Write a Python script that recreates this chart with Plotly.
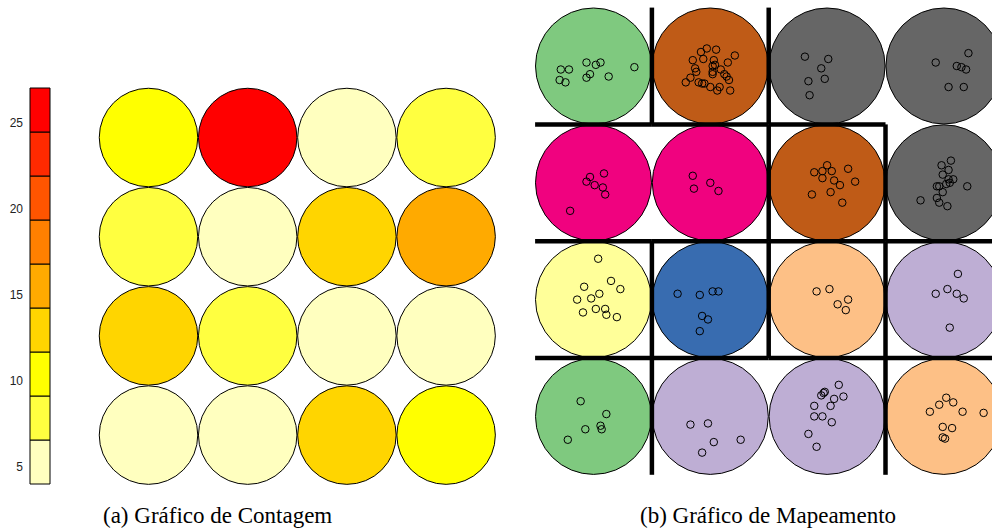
import plotly.graph_objects as go

# contagem de observações por neurônio (grade 4x4, linha 1 = topo)
counts = [[11, 27, 6, 7],
          [7, 4, 12, 16],
          [12, 7, 5, 6],
          [6, 5, 13, 10]]
count_min, count_max = 4, 27
heat_colors = ["#FFFFBF", "#FFFF40", "#FFFF00", "#FFD500", "#FFAA00",
               "#FF8000", "#FF5500", "#FF2A00", "#FF0000"]
colorbar_ticks = [5, 10, 15, 20, 25]

# agrupamento dos neurônios
clusters = [["verde", "marrom", "cinza", "cinza"],
            ["rosa", "rosa", "marrom", "cinza"],
            ["amarelo", "azul", "pessego", "lilas"],
            ["verde", "lilas", "lilas", "pessego"]]
cluster_colors = {"verde": "#7FC97F", "lilas": "#BEAED4", "pessego": "#FDC086",
                  "amarelo": "#FFFF99", "azul": "#386CB0", "rosa": "#F0027F",
                  "marrom": "#BF5B17", "cinza": "#666666"}

# observações mapeadas (coordenadas na grade: coluna, linha)
obs_x = [0.72, 0.79, 0.71, 0.76, 0.94, 1.02, 1.06, 0.97, 0.94, 1.13, 1.35,
         1.97, 2.05, 1.92, 1.85, 1.94, 2.03, 2.21, 2.15, 2.04, 2.02, 1.87, 1.88, 2.09, 2.02,
         2.02, 2.12, 2.14, 2.16, 1.83, 1.79, 1.90, 1.93, 1.95, 2.00, 2.08, 2.06, 2.17,
         2.81, 3.01, 2.95, 2.84, 2.98, 2.85,
         4.21, 3.93, 4.11, 4.15, 4.19, 4.04, 4.17,
         0.97, 1.09, 0.94, 1.01, 1.08, 1.10, 0.80,
         1.85, 2.00, 1.86, 2.07,
         3.00, 2.89, 2.96, 3.04, 3.18, 2.96, 3.06, 3.11, 3.24, 2.87, 3.03, 3.13,
         4.06, 3.98, 4.04, 3.99, 4.04, 4.08, 4.02, 4.05, 3.96, 3.94, 4.20, 3.99, 3.94, 3.80,
         3.96, 4.03,
         1.04, 0.92, 1.15, 1.23, 1.05, 0.86, 0.98, 1.02, 1.10, 1.11, 0.91, 1.20,
         1.72, 1.91, 2.02, 2.07, 1.93, 1.98, 1.91,
         2.91, 3.02, 3.18, 3.09, 3.16,
         4.12, 4.03, 3.93, 4.11, 4.17, 4.05,
         0.89, 1.11, 1.06, 0.93, 1.07, 0.78,
         1.83, 1.98, 2.03, 2.26, 1.93,
         3.10, 2.98, 2.95, 3.14, 3.06, 2.89, 3.03, 2.89, 2.96, 3.04, 2.84, 2.91, 2.97,
         4.02, 3.96, 4.08, 3.88, 4.16, 4.34, 3.99, 4.07, 3.99, 4.01]
obs_y = [1.03, 1.03, 1.12, 1.14, 0.97, 0.99, 0.97, 1.07, 1.10, 1.09, 1.01,
         0.85, 0.86, 0.88, 0.95, 0.94, 0.95, 0.91, 0.97, 0.99, 1.00, 1.02, 1.05, 1.03, 1.05,
         1.07, 1.07, 1.09, 1.12, 1.10, 1.14, 1.14, 1.15, 1.15, 1.18, 1.18, 1.21, 1.21,
         0.92, 0.94, 1.02, 1.13, 1.11, 1.25,
         0.89, 0.97, 1.00, 1.01, 1.03, 1.18, 1.18,
         1.95, 1.92, 1.99, 2.02, 2.04, 2.10, 2.24,
         1.94, 2.00, 2.05, 2.07,
         1.85, 1.91, 1.90, 1.90, 1.88, 1.96, 1.98, 2.02, 1.99, 2.10, 2.08, 2.17,
         1.81, 1.85, 1.89, 1.93, 1.97, 1.97, 2.01, 2.00, 2.03, 2.03, 2.03, 2.08, 2.13, 2.15,
         2.17, 2.20,
         2.65, 2.89, 2.84, 2.91, 2.95, 3.00, 2.99, 3.08, 3.08, 3.13, 3.11, 3.15,
         2.95, 2.96, 2.93, 2.93, 3.14, 3.17, 3.27,
         2.93, 2.91, 3.00, 3.04, 3.09,
         2.78, 2.91, 2.95, 2.95, 2.99, 3.24,
         3.87, 3.98, 4.08, 4.11, 4.11, 4.20,
         4.07, 4.06, 4.22, 4.20, 4.31,
         3.73, 3.79, 3.82, 3.83, 3.85, 3.91, 3.91, 4.00, 4.00, 4.05, 4.15, 4.26, 3.80,
         3.84, 3.90, 3.88, 3.96, 3.96, 3.97, 4.09, 4.10, 4.18, 4.19]

W, H = 992, 530
n = len(counts)
cell_col = [c + 1 for r in range(n) for c in range(n)]
cell_row = [r + 1 for r in range(n) for c in range(n)]


def dom_x(a, b):
    return [a / W, b / W]


def dom_y(top, bottom):
    return [1 - bottom / H, 1 - top / H]


def grid_range(p0, p1, center1, unit):
    return [1 + (p0 - center1) / unit, 1 + (p1 - center1) / unit]


fig = go.Figure()

# --- escala de cores (legenda em blocos) ---
nb = len(heat_colors)
bw = (count_max - count_min) / nb
fig.add_trace(go.Bar(
    x=[0.5] * nb, y=[bw] * nb, base=[count_min + i * bw for i in range(nb)],
    width=1, marker=dict(color=heat_colors, line=dict(color="black", width=1)),
    xaxis="x3", yaxis="y3", hoverinfo="skip", showlegend=False))

# --- (a) gráfico de contagem ---
steps = []
for i, c in enumerate(heat_colors):
    steps += [[i / nb, c], [(i + 1) / nb, c]]
fig.add_trace(go.Scatter(
    x=cell_col, y=cell_row, mode="markers", cliponaxis=False,
    marker=dict(size=98.5, color=[v for row in counts for v in row],
                colorscale=steps, cmin=count_min, cmax=count_max,
                line=dict(color="black", width=1)),
    xaxis="x", yaxis="y", showlegend=False))

# --- (b) gráfico de mapeamento ---
fig.add_trace(go.Scatter(
    x=cell_col, y=cell_row, mode="markers", cliponaxis=False,
    marker=dict(size=116, color=[cluster_colors[k] for row in clusters for k in row],
                line=dict(color="black", width=1)),
    xaxis="x2", yaxis="y2", showlegend=False))

seg_x, seg_y = [], []
for r in range(n):
    for c in range(n):
        if c < n - 1 and clusters[r][c] != clusters[r][c + 1]:
            seg_x += [c + 1.5, c + 1.5, None]
            seg_y += [r + 0.5, r + 1.5, None]
        if r < n - 1 and clusters[r][c] != clusters[r + 1][c]:
            seg_x += [c + 0.5, c + 1.5, None]
            seg_y += [r + 1.5, r + 1.5, None]
fig.add_trace(go.Scatter(
    x=seg_x, y=seg_y, mode="lines", line=dict(color="black", width=4.5),
    xaxis="x2", yaxis="y2", showlegend=False))

fig.add_trace(go.Scatter(
    x=obs_x, y=obs_y, mode="markers",
    marker=dict(symbol="circle-open", size=7.5, color="black", line=dict(width=1)),
    xaxis="x2", yaxis="y2", showlegend=False))

hidden = dict(visible=False, fixedrange=True)
u_a, u_b = 99.2, 116.8
px_per = 396 / (count_max - count_min)
cap_font = dict(size=23, family="Liberation Serif, DejaVu Serif, serif", color="black")
fig.update_layout(
    width=W, height=H, margin=dict(l=0, r=0, t=0, b=0),
    paper_bgcolor="white", plot_bgcolor="rgba(0,0,0,0)",
    xaxis=dict(domain=dom_x(90, 505), range=grid_range(90, 505, 148.5, u_a), **hidden),
    yaxis=dict(domain=dom_y(80, 492),
               range=grid_range(80, 492, 137.5, u_a)[::-1], **hidden),
    xaxis2=dict(domain=dom_x(520, 992), range=grid_range(520, 992, 593.5, u_b), **hidden),
    yaxis2=dict(domain=dom_y(0, 490),
                range=grid_range(0, 490, 66, u_b)[::-1], **hidden),
    xaxis3=dict(domain=dom_x(29, 51), range=[-0.05, 1.05], visible=False, fixedrange=True),
    yaxis3=dict(domain=dom_y(86, 486), anchor="x3",
                range=[count_min - 2 / px_per, count_max + 2 / px_per],
                tickvals=colorbar_ticks, showgrid=False, zeroline=False,
                showline=False, ticks="", ticklabelstandoff=5,
                tickfont=dict(family="Liberation Sans, Arial", size=12, color="#222"),
                fixedrange=True),
    annotations=[
        dict(text="(a) Gráfico de Contagem", x=217.5 / W, y=1 - 515 / H,
             xref="paper", yref="paper", xanchor="center", yanchor="middle",
             showarrow=False, font=cap_font),
        dict(text="(b) Gráfico de Mapeamento", x=767.5 / W, y=1 - 515 / H,
             xref="paper", yref="paper", xanchor="center", yanchor="middle",
             showarrow=False, font=cap_font),
    ],
)

fig.write_html("out.html", config={"displayModeBar": False},
               post_script="document.body.style.margin='0';")
